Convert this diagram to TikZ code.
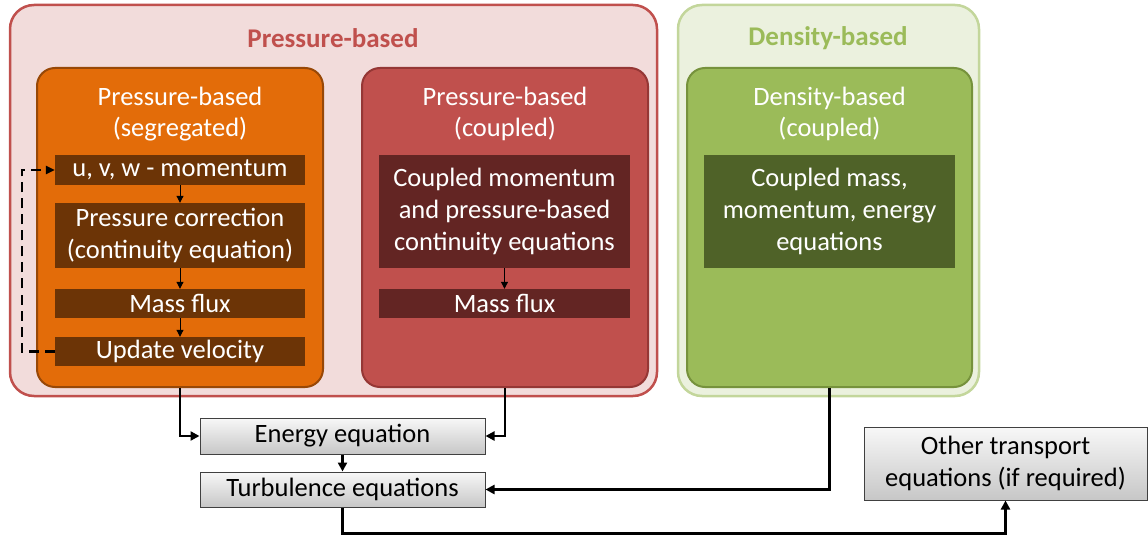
\documentclass[tikz,border=0pt]{standalone}
\usepackage{fontspec}
\setmainfont{Carlito}
\usepackage{tikz}
\usetikzlibrary{arrows.meta, positioning, calc}
\definecolor{pressred}{RGB}{192,80,77}
\definecolor{presspink}{RGB}{242,220,219}
\definecolor{pressdark}{RGB}{99,37,35}
\definecolor{pressedge}{RGB}{149,55,53}
\definecolor{segorange}{RGB}{227,108,9}
\definecolor{segedge}{RGB}{152,72,7}
\definecolor{segdark}{RGB}{108,52,6}
\definecolor{densgreen}{RGB}{155,187,89}
\definecolor{denslight}{RGB}{235,241,222}
\definecolor{densrim}{RGB}{195,214,155}
\definecolor{densedge}{RGB}{118,146,60}
\definecolor{densdark}{RGB}{79,98,40}

\tikzset{
    group/.style={draw, line width=2.5pt, rounded corners=24pt, inner sep=0pt},
    solver/.style={draw, line width=2pt, rounded corners=18pt, inner sep=0pt, minimum width=286pt, minimum height=319pt},
    title/.style={text=white, align=center, font=\fontsize{26.5}{31}\selectfont},
    stepbox/.style={text=white, align=center, inner sep=0pt, minimum width=250pt, font=\fontsize{26.5}{32}\selectfont},
    eqbox/.style={draw=black!75, line width=1pt, top color=black!3, bottom color=black!22, align=center, inner sep=0pt, font=\fontsize{26.5}{32}\selectfont},
    flow/.style={line width=2.5pt, -{Triangle[length=9pt,width=9pt]}},
    small/.style={line width=1pt, -{Triangle[length=7pt,width=7pt]}},
    backloop/.style={line width=2.5pt, dash pattern=on 10pt off 6pt, -{Triangle[length=9pt,width=8pt]}}
}

\begin{document}
\begin{tikzpicture}[x=1pt, y=-1pt]
    \useasboundingbox (0,0) rectangle (1148,537);

    % Groups
    \node[group, draw=pressred, fill=presspink, minimum width=647pt, minimum height=391pt] (pgroup) at (333.5,200.5) {};
    \node[font=\fontsize{27}{30}\selectfont\bfseries, text=pressred] (ptitle) at (333,38) {Pressure-based};
    \node[group, draw=densrim, fill=denslight, minimum width=301pt, minimum height=391pt] (dgroup) at (828.5,200.5) {};
    \node[font=\fontsize{27}{30}\selectfont\bfseries, text=densgreen] (dtitle) at (828,38) {Density-based};

    % Solvers
    \node[solver, draw=segedge, fill=segorange] (seg) at (180,227.5) {};
    \node[solver, draw=pressedge, fill=pressred] (coup) at (505,227.5) {};
    \node[solver, draw=densedge, fill=densgreen, minimum width=285pt] (dens) at (829.5,227.5) {};
    \node[title] (segtitle) at (180,114) {Pressure-based\\(segregated)};
    \node[title] (couptitle) at (505,114) {Pressure-based\\(coupled)};
    \node[title] (denstitle) at (829.5,114) {Density-based\\(coupled)};

    % Segregated steps
    \node[stepbox, fill=segdark, minimum height=30pt] (mom) at (180,170) {u, v, w - momentum};
    \node[stepbox, fill=segdark, minimum height=65pt] (pcorr) at (180,235.5) {Pressure correction\\(continuity equation)};
    \node[stepbox, fill=segdark, minimum height=29pt] (segflux) at (180,303.5) {Mass flux};
    \node[stepbox, fill=segdark, minimum height=29pt] (upvel) at (180,351.5) {Update velocity};
    \draw[small] (mom) -- (pcorr);
    \draw[small] (pcorr) -- (segflux);
    \draw[small] (segflux) -- (upvel);
    \draw[backloop] (upvel.west) -- ++(-33,0) |- (mom.west);

    % Coupled steps
    \node[stepbox, fill=pressdark, minimum width=251pt, minimum height=113pt] (coupeq) at (504.5,211.5) {Coupled momentum\\and pressure-based\\continuity equations};
    \node[stepbox, fill=pressdark, minimum width=251pt, minimum height=29pt] (coupflux) at (504.5,303.5) {Mass flux};
    \draw[small] (coupeq) -- (coupflux);
    \node[stepbox, fill=densdark, minimum width=251pt, minimum height=113pt] (denseq) at (829.5,211.5) {Coupled mass,\\momentum, energy\\equations};

    % Equations below
    \node[eqbox, minimum width=285pt, minimum height=36pt] (energy) at (342.5,436) {Energy equation};
    \node[eqbox, minimum width=285pt, minimum height=35pt] (turb) at (342.5,489.5) {Turbulence equations};
    \node[eqbox, minimum width=283pt, minimum height=73pt] (other) at (1005.5,463.5) {Other transport\\equations (if required)};

    \draw[flow] (seg.south) |- (energy.west);
    \draw[flow] (coup.south) |- (energy.east);
    \draw[flow] (energy) -- (turb);
    \draw[flow] (dens.south) |- (turb.east);
    \draw[flow] (turb.south) -- ++(0,26) -| (other.south);
\end{tikzpicture}
\end{document}
